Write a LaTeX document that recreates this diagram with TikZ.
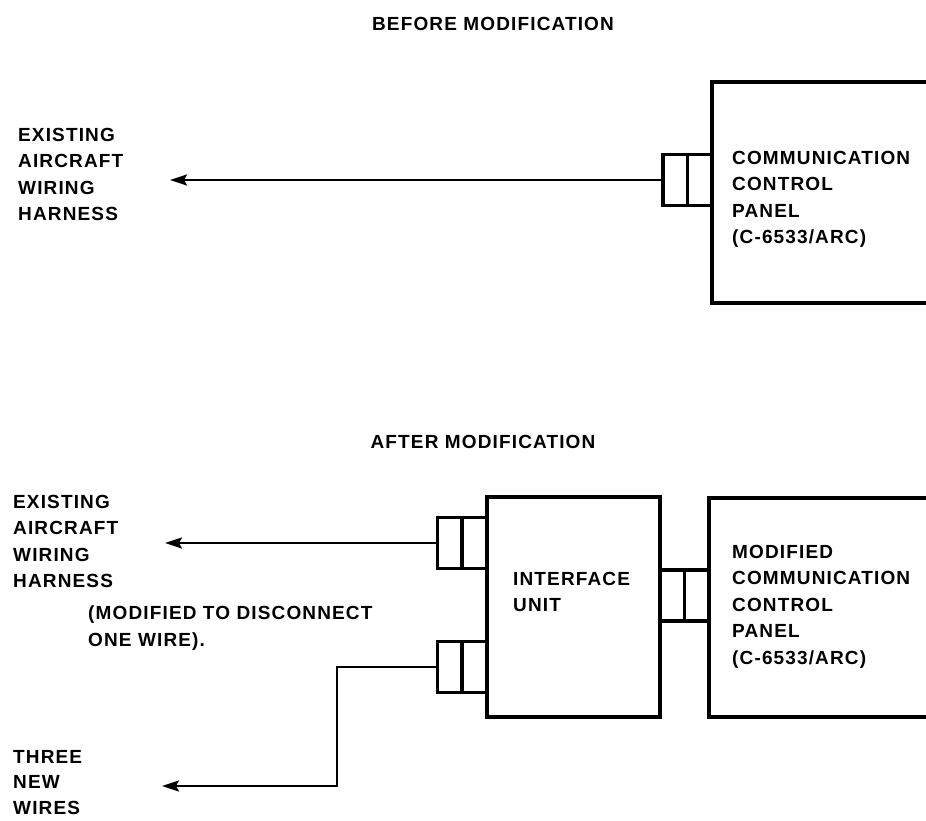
\documentclass[tikz,border=0pt]{standalone}
\usepackage{fontspec}
\setmainfont{Liberation Sans}[LetterSpace=6]
\usetikzlibrary{arrows.meta}
\begin{document}
\begin{tikzpicture}[x=1pt,y=-1pt,
  lbl/.style={inner sep=0pt, align=left, font=\fontsize{19}{26.5}\selectfont\bfseries, anchor=north west},
  ttl/.style={inner sep=0pt, font=\fontsize{19}{26.5}\selectfont\bfseries, anchor=north},
  unitbox/.style={draw, line width=3.4pt, rectangle, inner sep=0pt},
  plug/.style={draw, line width=3.2pt, rectangle, inner sep=0pt, minimum width=49pt, minimum height=51pt},
  divider/.style={line width=3.2pt},
  wire/.style={line width=2.3pt},
  arr/.style={wire, -{Stealth[length=17pt,width=11pt,inset=3pt]}}
]
\useasboundingbox (0,0) rectangle (926,821);
\fill[white] (0,0) rectangle (926,821);
\clip (0,0) rectangle (926,821);

% ---------- BEFORE ----------
\node[ttl] (before) at (493,17) {BEFORE MODIFICATION};
\node[unitbox, minimum width=260pt, minimum height=221pt] (panel1) at (842,192.5) {};
\node[plug] (plug1) at (687.5,180) {};
\draw[divider] (plug1.north) -- (plug1.south);
\coordinate (tip1) at (170,180);
\draw[arr] (plug1.west) -- (tip1);
\node[lbl] (harness1) at (18,128) {EXISTING\\AIRCRAFT\\WIRING\\HARNESS};
\node[lbl] (panel1txt) at (732,151) {COMMUNICATION\\CONTROL\\PANEL\\(C-6533/ARC)};

% ---------- AFTER ----------
\node[ttl] (after) at (483,435) {AFTER MODIFICATION};
\node[unitbox, minimum width=173pt, minimum height=220pt] (iu) at (573.5,607) {};
\node[unitbox, minimum width=260pt, minimum height=219pt] (panel2) at (839,607.5) {};
\node[plug] (plug2) at (462,543) {};
\draw[divider] (plug2.north) -- (plug2.south);
\node[plug] (plug3) at (462,667) {};
\draw[divider] (plug3.north) -- (plug3.south);
\node[plug] (plug4) at (684.5,595.5) {};
\draw[divider] (plug4.north) -- (plug4.south);

\coordinate (tip2) at (165,543);
\coordinate (tip3) at (162,786);
\draw[arr] (plug2.west) -- (tip2);
\draw[arr] (plug3.west) -- ++(-99,0) |- (tip3);

\node[lbl] (harness2) at (13,495) {EXISTING\\AIRCRAFT\\WIRING\\HARNESS};
\node[lbl] (note) at (88,606) {(MODIFIED TO DISCONNECT\\ONE WIRE).};
\node[lbl] (iutxt) at (513,572) {INTERFACE\\UNIT};
\node[lbl] (panel2txt) at (732,545) {MODIFIED\\COMMUNICATION\\CONTROL\\PANEL\\(C-6533/ARC)};
\node[lbl, font=\fontsize{19}{25.5}\selectfont\bfseries] (newwires) at (13,750) {THREE\\NEW\\WIRES};
\end{tikzpicture}
\end{document}
